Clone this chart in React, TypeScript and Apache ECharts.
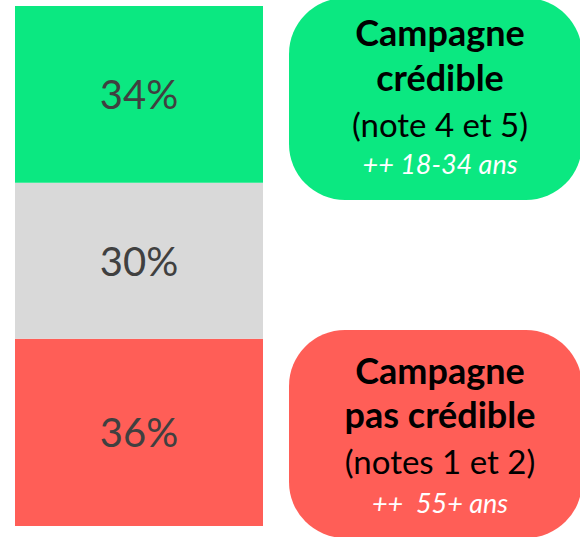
import React, { useEffect, useRef } from "react";
import * as echarts from "echarts";

const categories = ["Campagne"];
const seriesNames = ["pas crédible", "neutre", "crédible"];
const seriesValues = [36, 30, 34];
const seriesColors = ["#FF5E57", "#D9D9D9", "#0BE881"];

const greenLines = ["Campagne", "crédible", "(note 4 et 5)", "++ 18-34 ans"];
const redLines = ["Campagne", "pas crédible", "(notes 1 et 2)", "++  55+ ans"];

const FONT = "Lato, 'Open Sans', sans-serif";

function boxTexts(lines: string[], baselines: number[]) {
  const styles = [
    { fontWeight: "bold", fontSize: 36, fill: "#000", fontStyle: "normal" },
    { fontWeight: "bold", fontSize: 36, fill: "#000", fontStyle: "normal" },
    { fontWeight: "normal", fontSize: 33, fill: "#000", fontStyle: "normal" },
    { fontWeight: "normal", fontSize: 27, fill: "#fff", fontStyle: "italic" },
  ];
  return lines.map((t, i) => ({
    type: "text",
    x: 440,
    y: baselines[i],
    z: 10,
    style: {
      text: t,
      align: "center",
      verticalAlign: "bottom",
      fontFamily: FONT,
      ...styles[i],
    },
  }));
}

export default function App() {
  const ref = useRef<HTMLDivElement>(null);
  useEffect(() => {
    if (!ref.current) return;
    const chart = echarts.init(ref.current, undefined, { renderer: "svg" });
    chart.setOption({
      animation: false,
      grid: { left: 15, top: 6, width: 248, height: 520 },
      xAxis: { type: "category", data: categories, show: false },
      yAxis: { type: "value", min: 0, max: 100, show: false },
      series: seriesValues.map((v, i) => ({
        name: seriesNames[i],
        type: "bar",
        stack: "total",
        barWidth: "100%",
        data: [v],
        itemStyle: { color: seriesColors[i] },
        label: {
          show: true,
          position: "inside",
          formatter: "{c}%",
          color: "#404040",
          fontSize: 40,
          fontFamily: FONT,
        },
      })),
      graphic: [
        {
          type: "rect",
          shape: { x: 289, y: -2, width: 293, height: 202, r: 56 },
          style: { fill: "#0BE881" },
          z: 5,
        },
        {
          type: "rect",
          shape: { x: 289, y: 330, width: 293, height: 208, r: 56 },
          style: { fill: "#FF5E57" },
          z: 5,
        },
        ...boxTexts(greenLines, [50, 95, 140, 177]),
        ...boxTexts(redLines, [388, 432, 477, 516]),
      ],
    });
    return () => chart.dispose();
  }, []);
  return (
    <div
      ref={ref}
      style={{ position: "fixed", left: 0, top: 0, width: 580, height: 537, background: "#fff" }}
    />
  );
}
